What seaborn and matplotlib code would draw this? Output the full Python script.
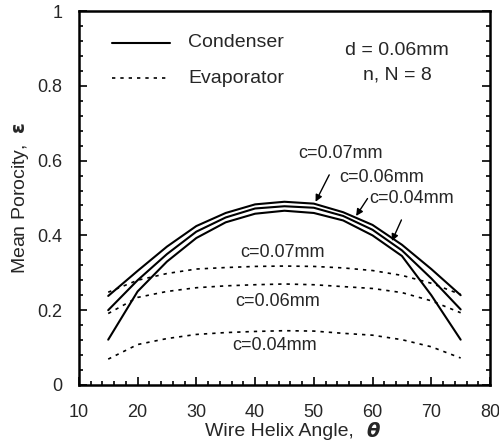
import numpy as np
import pandas as pd
import matplotlib
matplotlib.use("Agg")
import matplotlib.pyplot as plt
import seaborn as sns
from matplotlib.ticker import MultipleLocator

theta = [15, 20, 25, 30, 35, 40, 45, 50, 55, 60, 65, 70, 75]

# condenser (solid)
cond_007 = [0.238, 0.305, 0.370, 0.425, 0.460, 0.483, 0.490, 0.485, 0.462, 0.428, 0.375, 0.310, 0.240]
cond_006 = [0.200, 0.280, 0.350, 0.410, 0.448, 0.472, 0.478, 0.474, 0.452, 0.415, 0.360, 0.285, 0.202]
cond_004 = [0.121, 0.250, 0.330, 0.393, 0.435, 0.458, 0.466, 0.460, 0.440, 0.400, 0.345, 0.240, 0.121]

# evaporator (dashed)
evap_007 = [0.248, 0.280, 0.298, 0.310, 0.314, 0.317, 0.318, 0.317, 0.313, 0.306, 0.293, 0.272, 0.242]
evap_006 = [0.191, 0.234, 0.250, 0.260, 0.265, 0.268, 0.270, 0.268, 0.263, 0.258, 0.247, 0.225, 0.193]
evap_004 = [0.069, 0.108, 0.124, 0.135, 0.140, 0.143, 0.145, 0.144, 0.138, 0.133, 0.121, 0.102, 0.072]

clearances = ["c=0.07mm", "c=0.06mm", "c=0.04mm"]

rows = []
for name, vals in zip(clearances, [cond_007, cond_006, cond_004]):
    for t, v in zip(theta, vals):
        rows.append({"theta": t, "eps": v, "c": name, "mode": "Condenser"})
for name, vals in zip(clearances, [evap_007, evap_006, evap_004]):
    for t, v in zip(theta, vals):
        rows.append({"theta": t, "eps": v, "c": name, "mode": "Evaporator"})
df = pd.DataFrame(rows)

sns.set_style("ticks")
plt.rcParams["font.family"] = ["Liberation Sans", "DejaVu Sans"]
plt.rcParams["font.size"] = 14

fig = plt.figure(figsize=(4.99, 4.46), dpi=100)
ax = fig.add_axes([0.158, 0.137, 0.824, 0.838])

cond = df[df["mode"] == "Condenser"]
evap = df[df["mode"] == "Evaporator"]
sns.lineplot(data=cond, x="theta", y="eps", units="c", estimator=None,
             color="black", lw=1.5, ax=ax)
sns.lineplot(data=evap, x="theta", y="eps", units="c", estimator=None,
             color="black", lw=1.2, linestyle=(0, (2, 3)), ax=ax)

ax.set_xlim(10, 80)
ax.set_ylim(0, 1)
ax.xaxis.set_major_locator(MultipleLocator(10))
ax.xaxis.set_minor_locator(MultipleLocator(2))
ax.yaxis.set_minor_locator(MultipleLocator(0.04))
ax.set_yticks([0, 0.2, 0.4, 0.6, 0.8, 1.0])
ax.set_yticklabels(["0", "0.2", "0.4", "0.6", "0.8", "1"])
ax.tick_params(which="both", direction="in", right=True, top=False, labelsize=13,
               width=1.2, color="black")
ax.tick_params(which="major", length=6)
ax.tick_params(axis="x", which="major", pad=14)
ax.tick_params(axis="y", which="major", pad=12)
ax.tick_params(which="minor", length=3)
for s in ax.spines.values():
    s.set_linewidth(1.8)
    s.set_color("black")

ax.set_xlabel("Wire Helix Angle,  ", fontsize=14, labelpad=1)
ax.set_ylabel(r"Mean Porocity,  $\boldsymbol{\varepsilon}$", fontsize=14, labelpad=4)

# legend drawn by hand as in the figure
ax.plot([15.7, 25.5], [0.915, 0.915], color="black", lw=1.5)
ax.plot([15.7, 25.5], [0.82, 0.82], color="black", lw=1.2, linestyle=(0, (2, 3)))
ax.text(28.6, 0.915, "Condenser", va="center", ha="left", fontsize=14)
ax.text(28.6, 0.82, "Evaporator", va="center", ha="left", fontsize=14)

ax.text(64.1, 0.894, "d = 0.06mm", ha="center", va="center", fontsize=14)
ax.text(64.2, 0.83, "n, N = 8", ha="center", va="center", fontsize=14)

# condenser labels with arrows
arrow = dict(arrowstyle="-|>", color="black", lw=1, shrinkA=8, shrinkB=0, mutation_scale=10)
ax.annotate("c=0.07mm", xy=(50.3, 0.49), xytext=(54.5, 0.62), ha="center", va="center",
            fontsize=13, arrowprops=arrow)
ax.annotate("c=0.06mm", xy=(57.2, 0.452), xytext=(61.5, 0.555), ha="center", va="center",
            fontsize=13, arrowprops=arrow)
ax.annotate("c=0.04mm", xy=(63.3, 0.385), xytext=(66.6, 0.5), ha="center", va="center",
            fontsize=13, arrowprops=arrow)

# evaporator labels
ax.text(44.6, 0.355, "c=0.07mm", ha="center", va="center", fontsize=13)
ax.text(43.9, 0.224, "c=0.06mm", ha="center", va="center", fontsize=13)
ax.text(43.4, 0.105, "c=0.04mm", ha="center", va="center", fontsize=13)

# bold italic theta next to the x label
fig.canvas.draw()
xl = ax.xaxis.label
bb = xl.get_window_extent().transformed(fig.transFigure.inverted())
fig.text(bb.x1 + 0.005, (bb.y0 + bb.y1) / 2, "\u03b8", fontsize=14, fontweight="bold",
         fontstyle="italic", ha="left", va="center", family=["DejaVu Sans"])

fig.savefig("out.png", dpi=100)
